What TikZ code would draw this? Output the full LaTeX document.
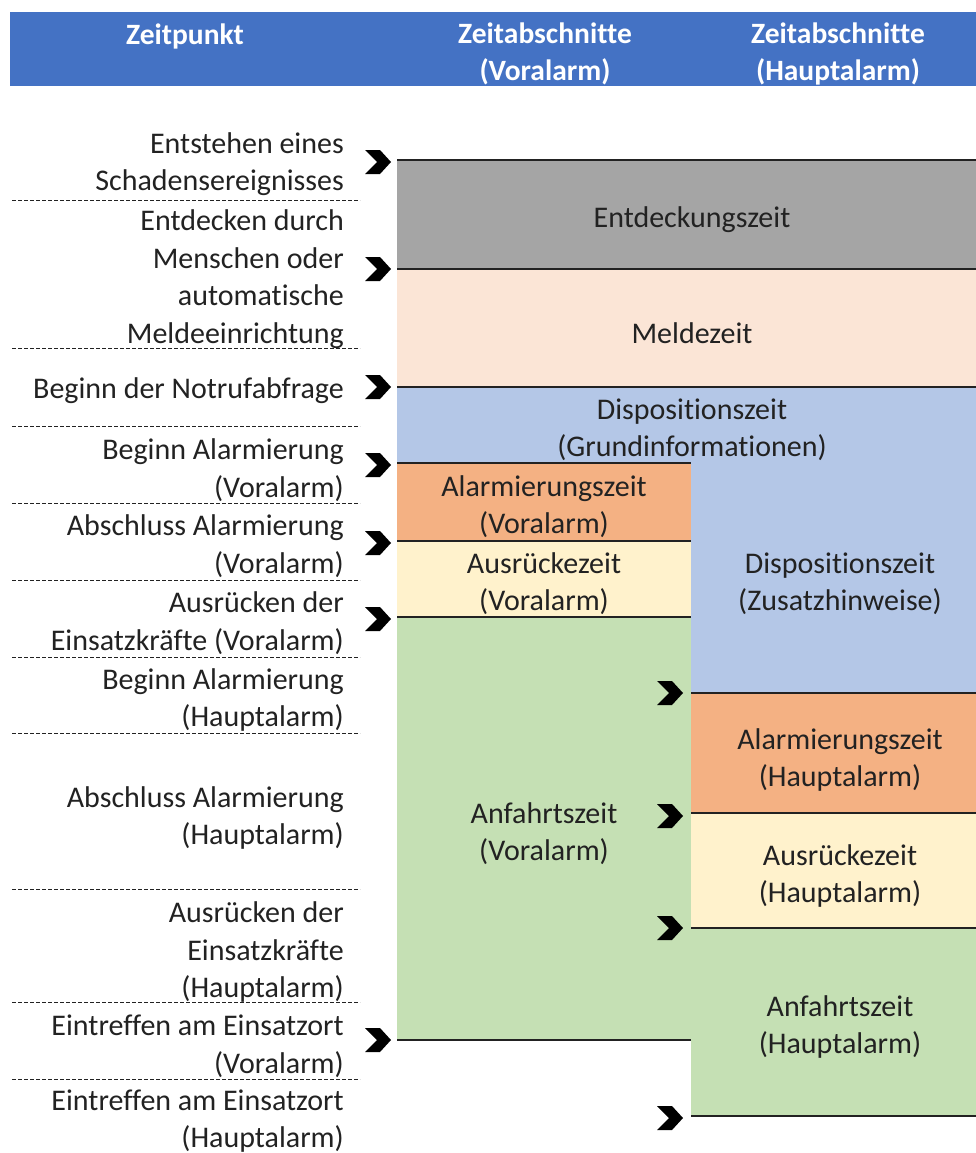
\documentclass[tikz,border=0pt]{standalone}
\usepackage{fontspec}
\setmainfont{Carlito}[Ligatures=NoCommon]
\definecolor{hdrblue}{HTML}{4472C4}
\definecolor{entgray}{HTML}{A5A5A5}
\definecolor{meldpeach}{HTML}{FBE5D6}
\definecolor{disblue}{HTML}{B4C7E7}
\definecolor{alorange}{HTML}{F4B183}
\definecolor{ausyellow}{HTML}{FFF2CC}
\definecolor{anfgreen}{HTML}{C5E0B4}
\definecolor{txtgray}{HTML}{222222}
\begin{document}
\begin{tikzpicture}[x=1pt,y=-1pt,
    lbl/.style={anchor=east,align=right,inner sep=0pt,text=txtgray,
      font=\fontsize{30}{37.5}\selectfont},
    boxtxt/.style={align=center,inner sep=0pt,text=txtgray,
      font=\fontsize{30}{37}\selectfont},
    hdtxt/.style={align=center,inner sep=0pt,text=white,
      font=\bfseries\fontsize{29.5}{37}\selectfont},
    sep/.style={draw=txtgray,line width=1.8pt},
    tick/.style={draw=txtgray,line width=0.8pt,dash pattern=on 4pt off 2pt},
    chev/.pic={\fill[black] (-26,-12) -- (-11,-12) -- (0,0) -- (-11,12)
      -- (-26,12) -- (-14,0) -- cycle;}]

  \useasboundingbox (0,0) rectangle (976,1153);

  % header
  \fill[hdrblue] (10,12) rectangle (976,86);
  \node[hdtxt] (hzp) at (185,36) {Zeitpunkt};
  \node[hdtxt] (hva) at (545,54) {Zeitabschnitte\\(Voralarm)};
  \node[hdtxt] (hha) at (838,54) {Zeitabschnitte\\(Hauptalarm)};

  % time spans
  \fill[entgray] (397,160) rectangle (976,269);
  \fill[meldpeach] (397,269) rectangle (976,387);
  \fill[disblue] (397,387) rectangle (976,463);
  \fill[alorange] (397,463) rectangle (691,541);
  \fill[ausyellow] (397,541) rectangle (691,617);
  \fill[anfgreen] (397,617) rectangle (691,1040);
  \fill[disblue] (691,463) rectangle (976,693);
  \fill[alorange] (691,693) rectangle (976,813);
  \fill[ausyellow] (691,813) rectangle (976,928);
  \fill[anfgreen] (691,928) rectangle (976,1116);

  \foreach \y in {160,269,387}
    \draw[sep] (397,\y) -- (976,\y);
  \foreach \y in {463,541,617,1040}
    \draw[sep] (397,\y) -- (691,\y);
  \foreach \y in {693,813,928,1116}
    \draw[sep] (691,\y) -- (976,\y);

  \node[boxtxt] (entd) at (692,220) {Entdeckungszeit};
  \node[boxtxt] (meld) at (692,333) {Meldezeit};
  \node[boxtxt] (disg) at (692,430) {Dispositionszeit\\(Grundinformationen)};
  \node[boxtxt] (alv) at (544,507) {Alarmierungszeit\\(Voralarm)};
  \node[boxtxt] (ausv) at (544,584) {Ausrückezeit\\(Voralarm)};
  \node[boxtxt] (anfv) at (544,834) {Anfahrtszeit\\(Voralarm)};
  \node[boxtxt] (disz) at (840,584) {Dispositionszeit\\(Zusatzhinweise)};
  \node[boxtxt] (alh) at (840,760) {Alarmierungszeit\\(Hauptalarm)};
  \node[boxtxt] (aush) at (840,876) {Ausrückezeit\\(Hauptalarm)};
  \node[boxtxt] (anfh) at (840,1027) {Anfahrtszeit\\(Hauptalarm)};

  % points in time
  \foreach \y in {200,348,426,503,580,657,733,889,1002,1079}
    \draw[tick] (12,\y) -- (360,\y);

  \node[lbl] (tschad) at (344,164) {Entstehen eines\\Schadensereignisses};
  \node[lbl] (tentd) at (344,279) {Entdecken durch\\Menschen oder\\automatische\\Meldeeinrichtung};
  \node[lbl] (tnot) at (344,391) {Beginn der Notrufabfrage};
  \node[lbl] (tbav) at (344,470) {Beginn Alarmierung\\(Voralarm)};
  \node[lbl] (tabv) at (344,546) {Abschluss Alarmierung\\(Voralarm)};
  \node[lbl] (tausv) at (344,623) {Ausrücken der\\Einsatzkräfte (Voralarm)};
  \node[lbl] (tbah) at (344,700) {Beginn Alarmierung\\(Hauptalarm)};
  \node[lbl] (tabh) at (344,818) {Abschluss Alarmierung\\(Hauptalarm)};
  \node[lbl] (taush) at (344,952) {Ausrücken der\\Einsatzkräfte\\(Hauptalarm)};
  \node[lbl] (teinv) at (344,1046) {Eintreffen am Einsatzort\\(Voralarm)};
  \node[lbl] (teinh) at (344,1121) {Eintreffen am Einsatzort\\(Hauptalarm)};

  % markers
  \foreach \y in {162,269,387,465,543,619,1040}
    \pic at (391,\y) {chev};
  \foreach \y in {693,816,928,1118}
    \pic at (683,\y) {chev};
\end{tikzpicture}
\end{document}
